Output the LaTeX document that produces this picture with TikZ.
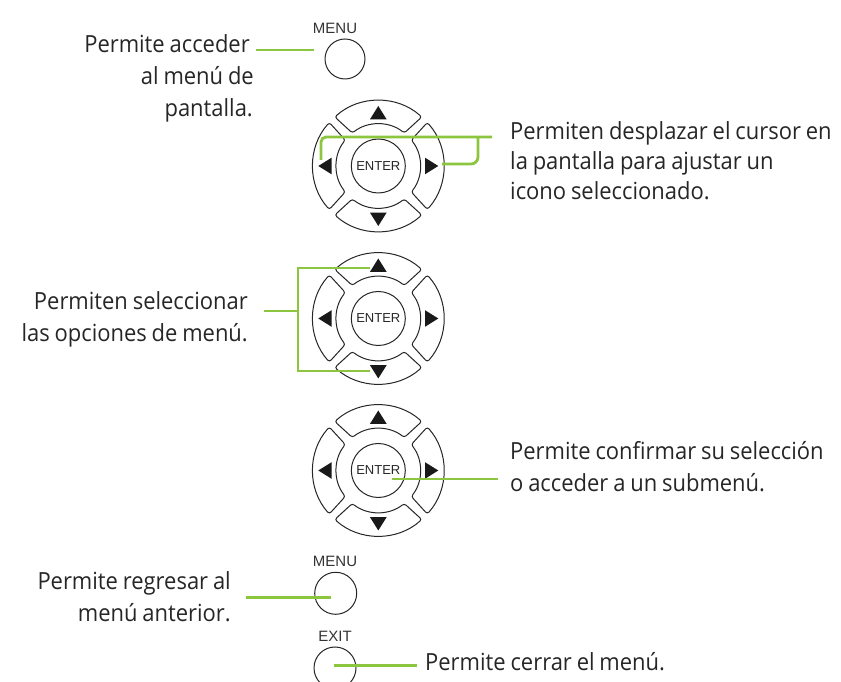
\documentclass[tikz,border=0pt]{standalone}
\usepackage{fontspec}
\setmainfont[FakeStretch=0.93,WordSpace=0.85]{Open Sans}
\newfontfamily\keyfont{Liberation Sans}
\tikzset{
  x=1pt,y=1pt,
  lbl/.style={inner sep=0pt,font=\fontsize{23.6}{32}\selectfont,text=black!85},
  key/.style={inner sep=0pt,font=\keyfont\fontsize{15}{15}\selectfont,text=black!80},
  btn/.style={draw=black!85,line width=1pt},
  lead/.style={draw=leadgreen,line width=2.8pt},
  seg/.pic={
    \path[btn,fill=white,rounded corners=2.5pt] (-43.5,49) arc[start angle=131.6,end angle=48.4,radius=65.5]
      -- (26,33) arc[start angle=51.8,end angle=128.2,radius=42] -- cycle;
    \fill[black!90] (-8.3,46.7) -- (8.3,46.7) -- (0,60) -- cycle;
  },
  dpad/.pic={
    \pic {seg};
    \pic[rotate=90] {seg};
    \pic[rotate=180] {seg};
    \pic[rotate=270] {seg};
    \node[btn,circle,minimum size=54pt,inner sep=0pt,font=\keyfont\fontsize{13}{13}\selectfont,text=black!85] (-c) at (0,0) {ENTER};
  }
}
\definecolor{leadgreen}{RGB}{140,198,63}
\begin{document}
\begin{tikzpicture}
\useasboundingbox (0,0) rectangle (841,682);
% plain buttons
\node[btn,circle,minimum size=40pt,inner sep=0pt] (menuA) at (345,623) {};
\node[key,anchor=center] (menuAl) at (335,654) {MENU};
\pic (padA) at (378.3,516) {dpad};
\pic (padB) at (378.3,363.5) {dpad};
\pic (padC) at (378.3,211.5) {dpad};
\node[btn,circle,minimum size=42pt,inner sep=0pt] (menuB) at (335.7,88.7) {};
\node[key] (menuBl) at (335,121) {MENU};
\begin{scope}
\clip (0,0) rectangle (841,682);
\node[btn,circle,minimum size=42pt,inner sep=0pt] (exit) at (335,14) {};
\end{scope}
\node[key] (exitl) at (335,46) {EXIT};
% labels
\node[lbl,align=right,anchor=north east] (t1) at (254,647.5) {Permite acceder\hspace*{4pt}\\al menú de\hspace*{5pt}\\pantalla.\hspace*{1pt}};
\node[lbl,align=left,anchor=north west] (t2) at (510,560.5) {Permiten desplazar el cursor en\\[-2pt]la pantalla para ajustar un\\[-2pt]icono seleccionado.};
\node[lbl,align=right,anchor=north east] (t3) at (248,391) {Permiten seleccionar\\las opciones de menú.};
\node[lbl,align=left,anchor=north west] (t4) at (510,241) {Permite confirmar su selección\\o acceder a un submenú.};
\node[lbl,align=right,anchor=north east] (t5) at (231,111) {Permite regresar al\\menú anterior.};
\node[lbl,anchor=west] (t6) at (425,20) {Permite cerrar el menú.};
% connector ends
\coordinate (a1) at (256,632);
\coordinate (a2) at (314,632);
\coordinate (b0) at (492,545);
\coordinate (b1) at (321,522);
\coordinate (bj) at (478,545);
\coordinate (b2) at (442,518);
\coordinate (c0) at (264,371);
\coordinate (cj) at (298,371);
\coordinate (c1) at (370,414);
\coordinate (c2) at (370,311);
\coordinate (d1) at (392,203);
\coordinate (d2) at (498,203);
\coordinate (e1) at (246,84.5);
\coordinate (e2) at (331,84.5);
\coordinate (f1) at (333.5,16.3);
\coordinate (f2) at (417,16.3);
\draw[lead] (a1) -- (a2);
\draw[lead,rounded corners=5pt] (b0) -- (b1 |- b0) -- (b1);
\draw[lead,rounded corners=7pt] (bj) -- (bj |- b2) -- (b2);
\draw[lead] (c1) -- (cj |- c1) -- (cj |- c2) -- (c2);
\draw[lead] (c0) -- (cj);
\draw[lead] (d1) -- (d2);
\draw[lead] (e1) -- (e2);
\draw[lead] (f1) -- (f2);
\end{tikzpicture}
\end{document}
